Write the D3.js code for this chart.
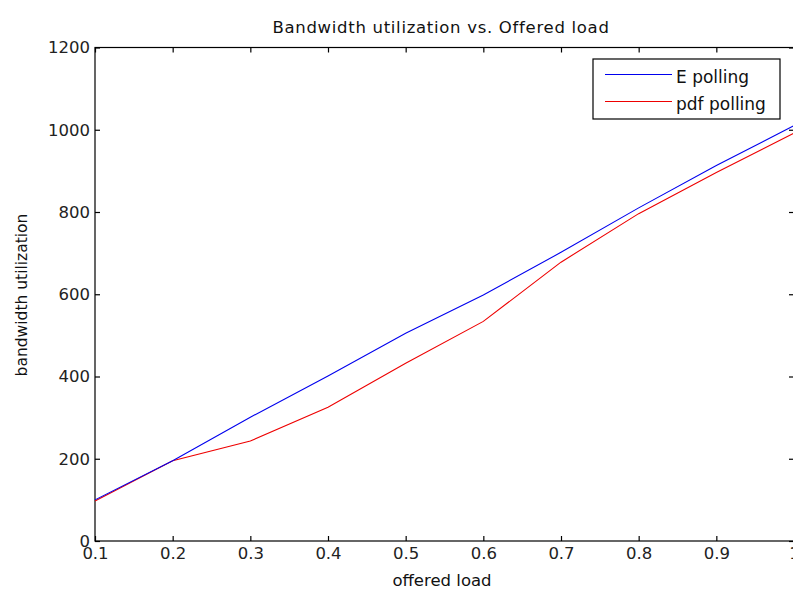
<!DOCTYPE html>
<html>
<head>
<meta charset="utf-8">
<script src="https://cdn.jsdelivr.net/npm/d3@7"></script>
<style>
  html, body { margin: 0; padding: 0; background: #fff; overflow: hidden; }
  svg { display: block; font-family: "DejaVu Sans", Verdana, sans-serif; }
</style>
</head>
<body>
<div id="container"></div>
<script>
/* DATA */
const load = [0.1, 0.2, 0.3, 0.4, 0.5, 0.6, 0.7, 0.8, 0.9, 1.0];
const ePolling = [100, 195, 301, 401, 505, 598, 702, 810, 913, 1010];
const pdfPolling = [97, 195, 243, 325, 432, 534, 678, 796, 896, 992];
const xTicks = [0.1, 0.2, 0.3, 0.4, 0.5, 0.6, 0.7, 0.8, 0.9, 1];
const yTicks = [0, 200, 400, 600, 800, 1000, 1200];

/* CONSTANTS */
const width = 793, height = 590;
const mLeft = 95, mRight = 794, mTop = 47.5, mBottom = 541;

const svg = d3.select("#container")
  .append("svg")
  .attr("width", width)
  .attr("height", height)

/* SCALES */
const xScale = d3.scaleLinear().domain([0.1, 1]).range([mLeft, mRight])
const yScale = d3.scaleLinear().domain([0, 1200]).range([mBottom, mTop])

// box
svg.append("rect")
  .attr("x", mLeft).attr("y", mTop)
  .attr("width", mRight - mLeft).attr("height", mBottom - mTop)
  .attr("fill", "none").attr("stroke", "#000").attr("stroke-width", 1.2)

/* AXES - matlab style, ticks inside */
const fmtX = d => d === 1 ? "1" : d.toFixed(1)
const xAxis = svg.append("g")
  .attr("transform", `translate(0,${mBottom})`)
  .call(d3.axisBottom(xScale).tickValues(xTicks).tickSize(-5).tickPadding(8).tickFormat(fmtX))
const xTop = svg.append("g")
  .attr("transform", `translate(0,${mTop})`)
  .call(d3.axisTop(xScale).tickValues(xTicks).tickSize(-5).tickFormat(""))
const yAxis = svg.append("g")
  .attr("transform", `translate(${mLeft},0)`)
  .call(d3.axisLeft(yScale).tickValues(yTicks).tickSize(-5).tickPadding(8).tickFormat(d3.format("d")))
const yRight = svg.append("g")
  .attr("transform", `translate(${mRight},0)`)
  .call(d3.axisRight(yScale).tickValues(yTicks).tickSize(-5).tickFormat(""))

svg.selectAll(".domain").remove()
svg.selectAll(".tick line").attr("stroke", "#000").attr("stroke-width", 1.2)
svg.selectAll(".tick text")
  .attr("fill", "#222")
  .style("font-size", "16.5px")
  .style("font-family", "\"DejaVu Sans\", Verdana, sans-serif")
xAxis.selectAll(".tick text").attr("dy", "0.6em")
yAxis.selectAll(".tick text").attr("dx", "3px")

/* LINES */
const line = d3.line().x((d, i) => xScale(load[i])).y(d => yScale(d))

svg.append("path")
  .datum(pdfPolling)
  .attr("d", line)
  .attr("fill", "none").attr("stroke", "#ee0000").attr("stroke-width", 1.1)
svg.append("path")
  .datum(ePolling)
  .attr("d", line)
  .attr("fill", "none").attr("stroke", "#0000ee").attr("stroke-width", 1.1)

/* TITLE AND LABELS */
svg.append("text")
  .attr("x", 441).attr("y", 33)
  .attr("text-anchor", "middle")
  .style("font-size", "16.5px").style("letter-spacing", "0.7px").attr("fill", "#111")
  .text("Bandwidth utilization vs. Offered load")

svg.append("text")
  .attr("x", 442).attr("y", 586)
  .attr("text-anchor", "middle")
  .style("font-size", "16.5px").attr("fill", "#111")
  .text("offered load")

svg.append("text")
  .attr("transform", `translate(27,295) rotate(-90)`)
  .attr("text-anchor", "middle")
  .style("font-size", "15.5px").attr("fill", "#111")
  .text("bandwidth utilization")

/* LEGEND */
const legend = svg.append("g").attr("transform", "translate(593,59)")
legend.append("rect")
  .attr("width", 187).attr("height", 60)
  .attr("fill", "#fff").attr("stroke", "#000").attr("stroke-width", 1.2)

const series = [
  { name: "E polling", color: "#0000ee" },
  { name: "pdf polling", color: "#ee0000" }
]
series.forEach((s, i) => {
  const yy = 15.5 + i * 27
  legend.append("line")
    .attr("x1", 12).attr("x2", 79).attr("y1", yy).attr("y2", yy)
    .attr("stroke", s.color).attr("stroke-width", 1.2)
  legend.append("text")
    .attr("x", 83).attr("y", yy + 8)
    .style("font-size", "17px").attr("fill", "#111")
    .text(s.name)
})
</script>
</body>
</html>
